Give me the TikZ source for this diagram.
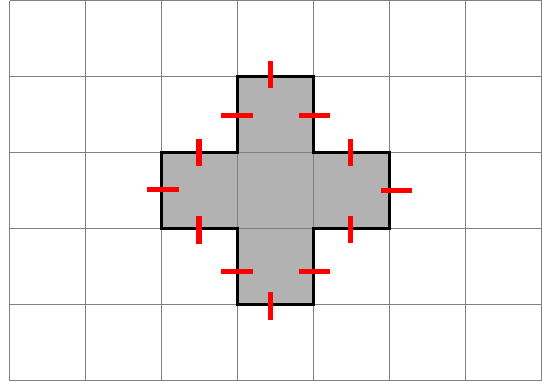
\documentclass[tikz,border=0pt]{standalone}
\usepackage{tikz}
\tikzset{
    celda/.style={
        draw=gray,
        line width=0.4pt
    },
    figura/.style={
        draw=black,
        line width=1pt
    },
    marcav/.style={
        draw=red,
        line width=1.9pt
    },
    marcah/.style={
        draw=red,
        line width=1.9pt
    }
}

\begin{document}
\begin{tikzpicture}[
    x=1cm,
    y=1cm
]
    \useasboundingbox (-0.13,-0.015) rectangle (7.005,5.01);

    % Relleno de la cruz
    \fill[black!30] (3,1) -- (4,1) -- (4,2) -- (5,2) -- (5,3) -- (4,3)
        -- (4,4) -- (3,4) -- (3,3) -- (2,3) -- (2,2) -- (3,2) -- cycle;

    % Cuadricula
    \draw[celda] (0,0) grid (7,5);

    % Borde
    \draw[figura] (3,1) -- (4,1) -- (4,2) -- (5,2) -- (5,3) -- (4,3)
        -- (4,4) -- (3,4) -- (3,3) -- (2,3) -- (2,2) -- (3,2) -- cycle;

    % Marcas sobre lados horizontales
    \foreach \x/\y in {3.43/4.03, 2.49/3.00, 4.49/3.00,
                       2.49/1.98, 4.49/1.99, 3.43/0.98}
        \draw[marcav] (\x,\y-0.18) -- (\x,\y+0.18);

    % Marcas sobre lados verticales
    \foreach \x/\y in {2.99/3.49, 4.01/3.49, 2.01/2.51,
                       5.09/2.50, 2.99/1.43, 4.01/1.43}
        \draw[marcah] (\x-0.21,\y) -- (\x+0.21,\y);

\end{tikzpicture}
\end{document}
